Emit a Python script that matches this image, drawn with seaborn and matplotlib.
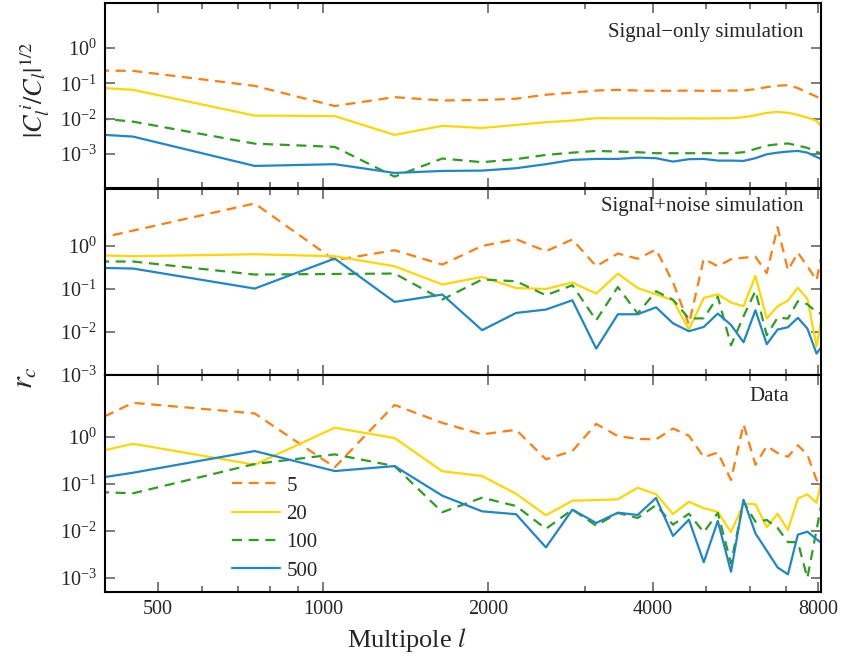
import pandas as pd
import matplotlib
matplotlib.use('Agg')
import matplotlib.pyplot as plt
import seaborn as sns
from matplotlib.ticker import NullLocator, NullFormatter, FixedFormatter

# Multipole bin centres (first and last lie just outside the axis range)
ell = [150, 450, 750, 1050, 1350, 1650, 1950, 2250, 2550, 2850, 3150, 3450, 3750, 4050,
       4350, 4650, 4950, 5250, 5550, 5850, 6150, 6450, 6750, 7050, 7350, 7650, 7950, 8250]

bins = ['5', '20', '100', '500']

# Signal-only simulation
sig_5 = [0.27, 0.227, 0.0855, 0.023, 0.041, 0.033, 0.034, 0.037, 0.048, 0.055, 0.063, 0.066, 0.063, 0.062,
         0.062, 0.063, 0.062, 0.062, 0.063, 0.063, 0.069, 0.079, 0.086, 0.09, 0.074, 0.055, 0.0425, 0.030]
sig_20 = [0.185, 0.066, 0.0123, 0.0119, 0.0035, 0.0063, 0.0055, 0.0067, 0.008, 0.0089, 0.0104, 0.0103, 0.0103, 0.0103,
          0.0102, 0.0103, 0.0102, 0.0103, 0.0104, 0.0111, 0.0126, 0.0147, 0.0157, 0.0147, 0.0129, 0.0108, 0.0087, 0.0045]
sig_100 = [0.043, 0.0083, 0.00198, 0.0016, 0.00023, 0.00075, 0.00059, 0.00072, 0.00095, 0.0011, 0.00123, 0.00118, 0.00113, 0.00106,
           0.00106, 0.00106, 0.00106, 0.00106, 0.00106, 0.00113, 0.0014, 0.00174, 0.0019, 0.002, 0.00174, 0.0015, 0.00115, 0.00097]
sig_500 = [0.0088, 0.00313, 0.000463, 0.000518, 0.000293, 0.000334, 0.000341, 0.000399, 0.000518, 0.000685, 0.000731, 0.000731, 0.000796, 0.000766,
           0.000614, 0.000718, 0.000731, 0.000655, 0.000655, 0.000642, 0.000766, 0.00099, 0.0011, 0.00118, 0.00123, 0.0011, 0.00083, 0.00064]

# Signal+noise simulation
noise_5 = [0.096, 2.27, 9.7, 0.465, 0.794, 0.369, 1.0, 1.43, 0.753, 1.41, 0.337, 0.666, 0.504, 0.824,
           0.143, 0.015, 0.504, 0.337, 0.49, 0.532, 0.561, 0.232, 2.72, 0.272, 0.695, 0.337, 0.159, 1.63]
noise_20 = [0.83, 0.576, 0.641, 0.576, 0.337, 0.127, 0.19, 0.105, 0.1, 0.141, 0.078, 0.226, 0.105, 0.075,
            0.0546, 0.0114, 0.0618, 0.075, 0.0483, 0.0396, 0.2, 0.0205, 0.0396, 0.0537, 0.107, 0.0585, 0.00465, 0.063]
noise_100 = [0.434, 0.434, 0.216, 0.223, 0.228, 0.0567, 0.166, 0.151, 0.0713, 0.122, 0.0187, 0.111, 0.0268, 0.0885,
             0.0561, 0.0205, 0.0208, 0.0659, 0.0049, 0.0232, 0.0898, 0.0084, 0.0216, 0.0205, 0.0518, 0.0441, 0.0287, 0.025]
noise_500 = [0.40, 0.298, 0.102, 0.509, 0.0499, 0.0741, 0.011, 0.0277, 0.0332, 0.0546, 0.0041, 0.0258, 0.0258, 0.0375,
             0.0159, 0.0104, 0.0131, 0.0268, 0.0146, 0.00576, 0.032, 0.00518, 0.0114, 0.0129, 0.0214, 0.012, 0.00315, 0.0059]

# Data
data_5 = [0.012, 5.37, 3.19, 0.227, 4.84, 2.01, 1.14, 1.43, 0.336, 0.504, 1.91, 1.05, 0.916, 0.893,
          1.52, 1.07, 0.372, 0.468, 0.122, 1.87, 0.258, 0.644, 0.457, 0.381, 0.669, 0.42, 0.123, 0.0665]
data_20 = [0.04, 0.72, 0.258, 1.58, 0.953, 0.187, 0.148, 0.0619, 0.0216, 0.044, 0.0457, 0.0472, 0.0834, 0.0607,
           0.023, 0.042, 0.0305, 0.0256, 0.0094, 0.0379, 0.037, 0.012, 0.0233, 0.0105, 0.0491, 0.0604, 0.04, 0.268]
data_100 = [0.0995, 0.0634, 0.267, 0.428, 0.241, 0.0251, 0.0511, 0.034, 0.0111, 0.0285, 0.013, 0.0242, 0.0189, 0.0354,
            0.0136, 0.0233, 0.0094, 0.0242, 0.00204, 0.0418, 0.0157, 0.0171, 0.0116, 0.00578, 0.00578, 0.001, 0.0105, 0.105]
data_500 = [0.0245, 0.174, 0.504, 0.189, 0.241, 0.0564, 0.0262, 0.0227, 0.00446, 0.0284, 0.0148, 0.0245, 0.0219, 0.0504,
            0.00783, 0.0174, 0.00216, 0.0163, 0.00135, 0.0463, 0.00885, 0.0038, 0.00167, 0.00119, 0.00834, 0.00966, 0.00666, 0.00478]

panel_titles = ['Signal\u2212only simulation', 'Signal+noise simulation', 'Data']

colors = {'5': '#ff7f0e', '20': '#ffd700', '100': '#2e9e1f', '500': '#1f87c9'}
dashes = {'5': (4.5, 3), '20': '', '100': (4.5, 3), '500': ''}


def to_long(series):
    frames = []
    for b, vals in zip(bins, series):
        frames.append(pd.DataFrame({'ell': ell, 'val': vals, 'bin': b}))
    return pd.concat(frames, ignore_index=True)


panels = [to_long([sig_5, sig_20, sig_100, sig_500]),
          to_long([noise_5, noise_20, noise_100, noise_500]),
          to_long([data_5, data_20, data_100, data_500])]

sns.set_style('ticks')
plt.rcParams['font.family'] = 'serif'
plt.rcParams['font.serif'] = ['Liberation Serif', 'DejaVu Serif']
plt.rcParams['mathtext.fontset'] = 'stix'

fig = plt.figure(figsize=(8.41, 6.6), dpi=100)
rects = [[0.1249, 0.7152, 0.8513, 0.2803],
         [0.1249, 0.4318, 0.8513, 0.2818],
         [0.1249, 0.1030, 0.8513, 0.3288]]
ylims = [(1.1e-4, 19), (1e-3, 21), (5e-4, 21)]
title_pos = [(0.976, 0.843), (0.976, 0.905), (0.955, 0.903)]

axes = []
for i, (df, rect) in enumerate(zip(panels, rects)):
    ax = fig.add_axes(rect)
    ax.set_xscale('log')
    ax.set_yscale('log')
    sns.lineplot(data=df, x='ell', y='val', hue='bin', style='bin', hue_order=bins, style_order=bins,
                 palette=colors, dashes=dashes, estimator=None, sort=False, linewidth=1.6,
                 legend=(i == 2), ax=ax)
    ax.set_xlim(400, 8100)
    ax.set_ylim(*ylims[i])
    ax.set_xticks([500, 1000, 2000, 4000, 8000])
    ax.set_xticks([600, 700, 800, 900, 3000, 5000, 6000, 7000], minor=True)
    ax.xaxis.set_minor_formatter(NullFormatter())
    if i == 2:
        ax.xaxis.set_major_formatter(FixedFormatter(['500', '1000', '2000', '4000', '8000']))
    else:
        ax.set_xticklabels([])
    ax.set_yticks([1e-3, 1e-2, 1e-1, 1])
    ax.yaxis.set_minor_locator(NullLocator())
    ax.set_xlabel('')
    ax.set_ylabel('')
    ax.tick_params(which='both', direction='in', top=True, right=True, color='0.4',
                   labelsize=14.5, width=1.2, pad=6)
    ax.tick_params(which='major', length=7)
    ax.tick_params(which='minor', length=4)
    for s in ax.spines.values():
        s.set_linewidth(1.5)
        s.set_color('black')
    ax.text(title_pos[i][0], title_pos[i][1], panel_titles[i], transform=ax.transAxes,
            ha='right', va='center', fontsize=15)
    axes.append(ax)

handles, labels = axes[2].get_legend_handles_labels()
axes[2].legend(handles, labels, loc='lower left', bbox_to_anchor=(0.16, -0.005), frameon=False,
               fontsize=15, handlelength=2.3, handletextpad=0.3, labelspacing=0.42, borderaxespad=0.2)

fig.text(35 / 841, 1 - 90 / 660, r'$|C_l^{\,i}/C_l|^{1/2}$', rotation=90, ha='center', va='center', fontsize=19)
fig.text(25 / 841, 1 - 378 / 660, r'$r_c$', rotation=90, ha='center', va='center', fontsize=22)
fig.text(407 / 841, 1 - 640 / 660, r'Multipole $l$', ha='center', va='center', fontsize=19)

fig.savefig('out.png', dpi=100)
